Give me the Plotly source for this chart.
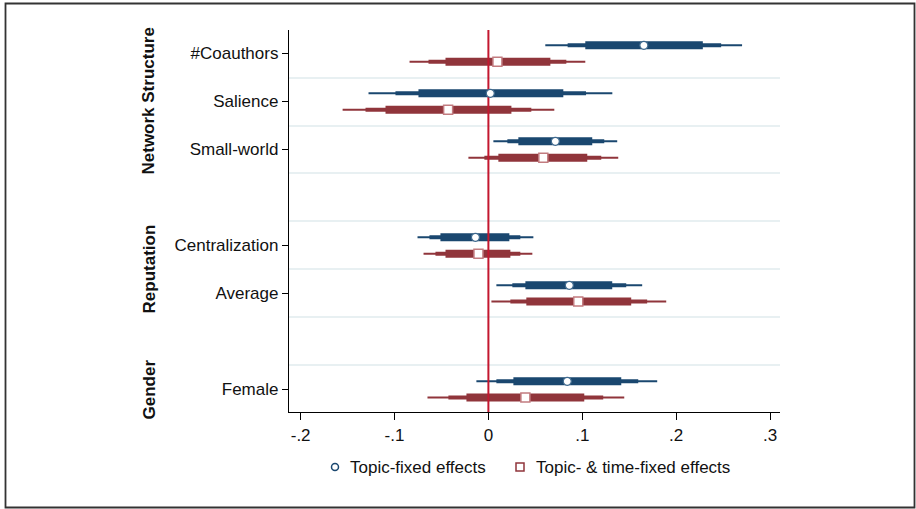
import numpy as np
import plotly.graph_objects as go

# ---------------- data ----------------
variables = ["#Coauthors", "Salience", "Small-world", "Centralization", "Average", "Female"]
groups = ["Network Structure", "Network Structure", "Network Structure",
          "Reputation", "Reputation", "Gender"]

series_names = ["Topic-fixed effects", "Topic- & time-fixed effects"]

# Topic-fixed effects
tf_coef = [0.1656, 0.0020, 0.0713, -0.0138, 0.0862, 0.0840]
tf_lo99 = [0.0606, -0.1277, 0.0053, -0.0755, 0.0085, -0.0128]
tf_hi99 = [0.2702, 0.1320, 0.1372, 0.0479, 0.1638, 0.1798]
tf_lo95 = [0.0844, -0.0990, 0.0202, -0.0628, 0.0255, 0.0085]
tf_hi95 = [0.2479, 0.1040, 0.1234, 0.0340, 0.1468, 0.1596]
tf_lo90 = [0.1032, -0.0745, 0.0319, -0.0511, 0.0394, 0.0266]
tf_hi90 = [0.2284, 0.0798, 0.1106, 0.0223, 0.1319, 0.1415]

# Topic- & time-fixed effects
ttf_coef = [0.0096, -0.0429, 0.0585, -0.0106, 0.0957, 0.0394]
ttf_lo99 = [-0.0840, -0.1553, -0.0213, -0.0691, 0.0032, -0.0649]
ttf_hi99 = [0.1032, 0.0702, 0.1383, 0.0468, 0.1894, 0.1447]
ttf_lo95 = [-0.0638, -0.1309, -0.0043, -0.0564, 0.0234, -0.0426]
ttf_hi95 = [0.0830, 0.0457, 0.1202, 0.0340, 0.1691, 0.1223]
ttf_lo90 = [-0.0457, -0.1096, 0.0106, -0.0457, 0.0404, -0.0234]
ttf_hi90 = [0.0660, 0.0245, 0.1053, 0.0234, 0.1521, 0.1021]

x_tickvals = [-0.2, -0.1, 0, 0.1, 0.2, 0.3]
x_ticktext = ["-.2", "-.1", "0", ".1", ".2", ".3"]

# ---------------- layout helpers ----------------
BLUE = "#1a476f"
MAROON = "#90353b"
ZERO = "#c3172f"
GRID = "#e8f0f2"
FONT = "Arial, Liberation Sans, sans-serif"
FS = 17

W, H = 916, 509
ML, MR, MT, MB = 289, 136, 30, 97
PW, PH = W - ML - MR, H - MT - MB

def px(xp):
    return (xp - ML) / PW

def py(yp):
    return (H - MB - yp) / PH

# row positions: one row per variable, plus an empty row between groups
positions = []
p = 0
for i, g in enumerate(groups):
    if i > 0 and g != groups[i - 1]:
        p += 1
    positions.append(p)
    p += 1
positions = np.array(positions, dtype=float)
max_pos = positions.max()
grid_pos = np.arange(0.5, max_pos, 1.0)

offset = 0.17
y_range = [max_pos + 0.47, -0.49]
x_range = [-0.2124, 0.3106]

fig = go.Figure()

def seg_xy(lo, hi, ys):
    xs, yy = [], []
    for a, b, y in zip(lo, hi, ys):
        xs += [a, b, None]
        yy += [y, y, None]
    return xs, yy

specs = [
    (tf_coef, [(tf_lo99, tf_hi99), (tf_lo95, tf_hi95), (tf_lo90, tf_hi90)], BLUE, -offset),
    (ttf_coef, [(ttf_lo99, ttf_hi99), (ttf_lo95, ttf_hi95), (ttf_lo90, ttf_hi90)], MAROON, offset),
]
widths = [2, 4, 8]

for coef, cis, col, off in specs:
    ys = positions + off
    for (lo, hi), w in zip(cis, widths):
        xs, yy = seg_xy(lo, hi, ys)
        fig.add_trace(go.Scatter(x=xs, y=yy, mode="lines",
                                 line=dict(color=col, width=w),
                                 showlegend=False, hoverinfo="skip"))

# zero reference line (between bars and markers)
fig.add_trace(go.Scatter(x=[0, 0], y=y_range, mode="lines",
                         line=dict(color=ZERO, width=2),
                         showlegend=False, hoverinfo="skip"))

# point estimates
fig.add_trace(go.Scatter(x=tf_coef, y=positions - offset, mode="markers",
                         name=series_names[0],
                         marker=dict(symbol="circle", size=8, color="white",
                                     line=dict(color="#3f6a8f", width=1.2)),
                         showlegend=False))
fig.add_trace(go.Scatter(x=ttf_coef, y=positions + offset, mode="markers",
                         name=series_names[1],
                         marker=dict(symbol="square", size=9, color="white",
                                     line=dict(color="#c27c80", width=1.5)),
                         showlegend=False))

# grid lines between rows via overlaid axis
fig.add_trace(go.Scatter(x=[None], y=[None], yaxis="y2", showlegend=False, hoverinfo="skip"))

# group labels
unique_groups = []
for g in groups:
    if g not in unique_groups:
        unique_groups.append(g)
annotations = []
for g in unique_groups:
    ys = [positions[i] for i in range(len(groups)) if groups[i] == g]
    annotations.append(dict(text="<b>%s</b>" % g, xref="paper", yref="y",
                            x=px(149), y=float(np.mean(ys)),
                            textangle=-90, showarrow=False,
                            xanchor="center", yanchor="middle",
                            font=dict(family=FONT, size=FS, color="#111111")))

# manual legend (below plot)
LEG_Y = 467
annotations.append(dict(text=series_names[0], xref="paper", yref="paper",
                        x=px(348), y=py(LEG_Y), xanchor="left", yanchor="middle",
                        showarrow=False, font=dict(family=FONT, size=FS, color="#111111")))
annotations.append(dict(text=series_names[1], xref="paper", yref="paper",
                        x=px(534), y=py(LEG_Y), xanchor="left", yanchor="middle",
                        showarrow=False, font=dict(family=FONT, size=FS, color="#111111")))

shapes = [
    dict(type="rect", xref="paper", yref="paper",
         x0=px(5.5), x1=px(914.5), y0=py(507.5), y1=py(3.5),
         line=dict(color="#333333", width=1.8), layer="below"),
    dict(type="circle", xref="paper", yref="paper",
         x0=px(331.5), x1=px(338.5), y0=py(LEG_Y + 3.5), y1=py(LEG_Y - 3.5),
         line=dict(color=BLUE, width=1.5), fillcolor="white"),
    dict(type="rect", xref="paper", yref="paper",
         x0=px(516), x1=px(524), y0=py(LEG_Y + 4), y1=py(LEG_Y - 4),
         line=dict(color=MAROON, width=1.5), fillcolor="white"),
]

fig.update_layout(
    width=W, height=H,
    margin=dict(l=ML, r=MR, t=MT, b=MB),
    paper_bgcolor="white", plot_bgcolor="white",
    font=dict(family=FONT, size=FS, color="#111111"),
    xaxis=dict(range=x_range, tickvals=x_tickvals, ticktext=x_ticktext,
               showgrid=False, zeroline=False, showline=True,
               linecolor="black", linewidth=1.3, ticks="outside",
               ticklen=7, tickwidth=1.3, tickcolor="black",
               tickfont=dict(size=FS)),
    yaxis=dict(range=y_range, tickvals=list(positions), ticktext=variables,
               showgrid=False, zeroline=False, showline=True,
               linecolor="black", linewidth=1.3, ticks="outside",
               ticklen=6, tickwidth=1.3, tickcolor="black",
               tickfont=dict(size=FS)),
    yaxis2=dict(range=y_range, overlaying="y", tickvals=list(grid_pos),
                showticklabels=False, ticks="", showgrid=True,
                gridcolor=GRID, gridwidth=1.5, zeroline=False, showline=False),
    annotations=annotations,
    shapes=shapes,
    showlegend=False,
)

fig.write_html("out.html",
               config={"displayModeBar": False},
               post_script="document.body.style.margin='0';document.body.style.overflow='hidden';")
